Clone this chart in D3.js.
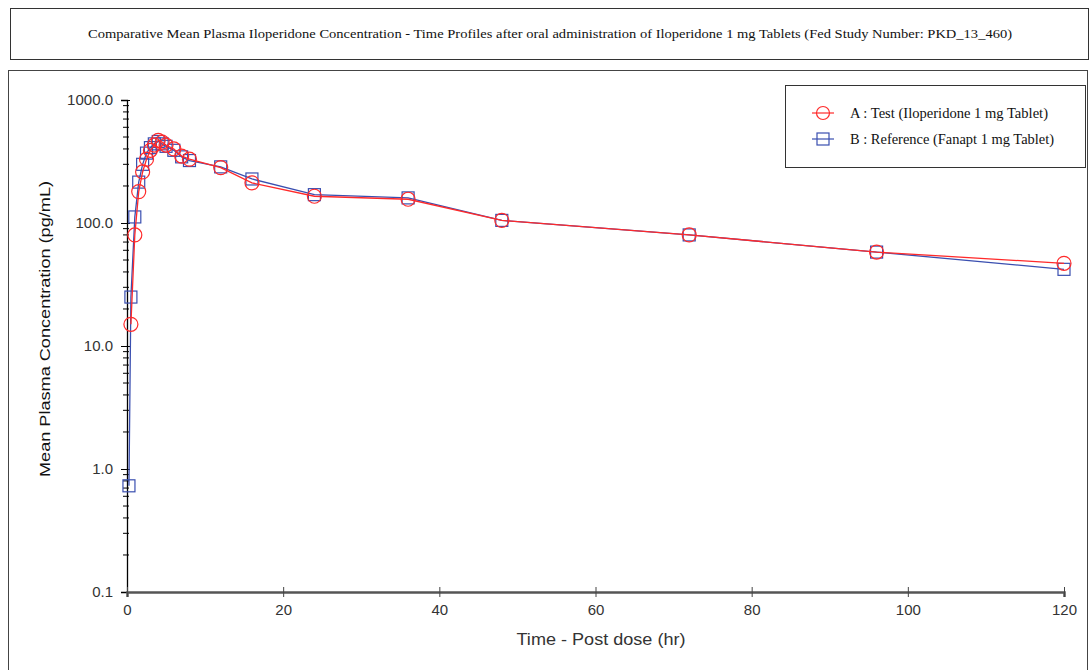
<!DOCTYPE html>
<html>
<head>
<meta charset="utf-8">
<script src="https://cdn.jsdelivr.net/npm/d3@7"></script>
<style>
  body { margin: 0; background: #fff; }
  svg { display: block; }
</style>
</head>
<body>
<div class="graph"></div>
<script>
// sampling times (hr) and mean concentrations (pg/mL)
const timesTest = [0.5, 1, 1.5, 2, 2.5, 3, 3.5, 4, 4.5, 5, 6, 7, 8, 12, 16, 24, 36, 48, 72, 96, 120];
const testValues = [15, 80, 180, 260, 330, 390, 430, 470, 455, 430, 400, 350, 330, 282, 212, 165, 156, 105, 80, 58, 47];

const timesRef = [0.25, 0.5, 1, 1.5, 2, 2.5, 3, 3.5, 4, 4.5, 5, 6, 7, 8, 12, 16, 24, 36, 48, 72, 96, 120];
const refValues = [0.73, 25, 112, 215, 300, 370, 410, 440, 460, 440, 420, 390, 345, 322, 286, 228, 170, 160, 105, 80, 58, 42];

const yTicks = [0.1, 1, 10, 100, 1000];
const xTicks = [0, 20, 40, 60, 80, 100, 120];

const titleText = 'Comparative Mean Plasma Iloperidone Concentration - Time Profiles after oral administration of Iloperidone 1 mg Tablets (Fed Study Number: PKD_13_460)';
const legendLabels = ['A : Test (Iloperidone 1 mg Tablet)', 'B : Reference (Fanapt 1 mg Tablet)'];

const width = 1090, height = 670;
const plot = { left: 127, right: 1064, top: 100, bottom: 592 };

const svg = d3.select('.graph')
  .append('svg')
  .attr('width', width)
  .attr('height', height);

// title box
svg.append('rect')
  .attr('x', 10.5).attr('y', 8.5)
  .attr('width', 1078).attr('height', 51)
  .attr('fill', 'none').attr('stroke', '#333').attr('stroke-width', 1);

svg.append('text')
  .attr('x', 550).attr('y', 38)
  .attr('text-anchor', 'middle')
  .attr('font-family', 'Liberation Serif, serif')
  .attr('font-size', 12.5)
  .attr('textLength', 924)
  .attr('lengthAdjust', 'spacingAndGlyphs')
  .attr('fill', '#111')
  .text(titleText);

// chart frame
svg.append('rect')
  .attr('x', 8.5).attr('y', 70.5)
  .attr('width', 1079).attr('height', 640)
  .attr('fill', 'none').attr('stroke', '#444').attr('stroke-width', 1);

const x = d3.scaleLinear().domain([0, 120]).range([plot.left, plot.right]);
const y = d3.scaleLog().domain([0.1, 1000]).range([plot.bottom, plot.top]);

// y axis with minor ticks
const yAxis = d3.axisLeft(y)
  .tickValues(yTicks)
  .tickFormat(d3.format('.1f'))
  .tickSize(6)
  .tickPadding(8);

const gy = svg.append('g')
  .attr('transform', `translate(${plot.left},0)`)
  .call(yAxis);
gy.select('.domain').attr('stroke', '#000').attr('stroke-width', 1.3);
gy.selectAll('.tick line').attr('stroke', '#000').attr('x2', -6).attr('x1', 3);
gy.selectAll('.tick text')
  .attr('font-family', 'Liberation Sans, Arial, sans-serif')
  .attr('font-size', 15)
  .attr('fill', '#333');

const minor = [];
yTicks.slice(0, -1).forEach(d => {
  for (let k = 2; k <= 9; k++) minor.push(d * k);
});
svg.append('g').selectAll('line')
  .data(minor)
  .join('line')
  .attr('x1', plot.left - 4).attr('x2', plot.left + 2)
  .attr('y1', d => y(d)).attr('y2', d => y(d))
  .attr('stroke', '#000').attr('stroke-width', 1);

// x axis
const xAxis = d3.axisBottom(x)
  .tickValues(xTicks)
  .tickSize(5)
  .tickPadding(7);

const gx = svg.append('g')
  .attr('transform', `translate(0,${plot.bottom})`)
  .call(xAxis);
gx.select('.domain').attr('stroke', '#555').attr('stroke-width', 2.5);
gx.selectAll('.tick line').attr('stroke', '#444').attr('y1', -5);
gx.selectAll('.tick text')
  .attr('font-family', 'Liberation Sans, Arial, sans-serif')
  .attr('font-size', 15)
  .attr('fill', '#333');

// axis labels
svg.append('text')
  .attr('transform', `translate(50,329) rotate(-90)`)
  .attr('text-anchor', 'middle')
  .attr('font-family', 'Liberation Sans, Arial, sans-serif')
  .attr('font-size', 15.5)
  .attr('textLength', 296)
  .attr('lengthAdjust', 'spacingAndGlyphs')
  .attr('fill', '#111')
  .text('Mean Plasma Concentration (pg/mL)');

svg.append('text')
  .attr('x', 601).attr('y', 645)
  .attr('text-anchor', 'middle')
  .attr('font-family', 'Liberation Sans, Arial, sans-serif')
  .attr('font-size', 16)
  .attr('textLength', 169)
  .attr('lengthAdjust', 'spacingAndGlyphs')
  .attr('fill', '#333')
  .text('Time - Post dose (hr)');

const red = '#ff2a2a', blue = '#3a4fb0';

const refData = timesRef.map((t, i) => ({ t, v: refValues[i] }));
const testData = timesTest.map((t, i) => ({ t, v: testValues[i] }));

const line = d3.line().x(d => x(d.t)).y(d => y(d.v));

// reference series
svg.append('path')
  .datum(refData)
  .attr('d', line)
  .attr('fill', 'none').attr('stroke', blue).attr('stroke-width', 1.3);

svg.append('g').selectAll('rect')
  .data(refData)
  .join('rect')
  .attr('x', d => x(d.t) - 6).attr('y', d => y(d.v) - 6)
  .attr('width', 12).attr('height', 12)
  .attr('fill', 'none').attr('stroke', blue).attr('stroke-width', 1.2);

// test series
svg.append('path')
  .datum(testData)
  .attr('d', line)
  .attr('fill', 'none').attr('stroke', red).attr('stroke-width', 1.3);

svg.append('g').selectAll('circle')
  .data(testData)
  .join('circle')
  .attr('cx', d => x(d.t)).attr('cy', d => y(d.v))
  .attr('r', 7)
  .attr('fill', 'none').attr('stroke', red).attr('stroke-width', 1.2);

// legend
const legend = svg.append('g');
legend.append('rect')
  .attr('x', 785.5).attr('y', 85.5)
  .attr('width', 300).attr('height', 82)
  .attr('fill', '#fff').attr('stroke', '#333').attr('stroke-width', 1);

const items = legend.selectAll('.item')
  .data(legendLabels)
  .join('g')
  .attr('class', 'item')
  .attr('transform', (d, i) => `translate(823,${113 + i * 26})`);

items.append('line')
  .attr('x1', -11).attr('x2', 11)
  .attr('stroke', (d, i) => i === 0 ? red : blue).attr('stroke-width', 1.2);

items.filter((d, i) => i === 0).append('circle')
  .attr('r', 6.5).attr('fill', 'none').attr('stroke', red).attr('stroke-width', 1.2);
items.filter((d, i) => i === 1).append('rect')
  .attr('x', -6).attr('y', -6).attr('width', 12).attr('height', 12)
  .attr('fill', 'none').attr('stroke', blue).attr('stroke-width', 1.2);

items.append('text')
  .attr('x', 27).attr('y', 5)
  .attr('font-family', 'Liberation Serif, serif')
  .attr('font-size', 14)
  .attr('textLength', (d, i) => i === 0 ? 198 : 204)
  .attr('lengthAdjust', 'spacingAndGlyphs')
  .attr('fill', '#111')
  .text(d => d);
</script>
</body>
</html>
